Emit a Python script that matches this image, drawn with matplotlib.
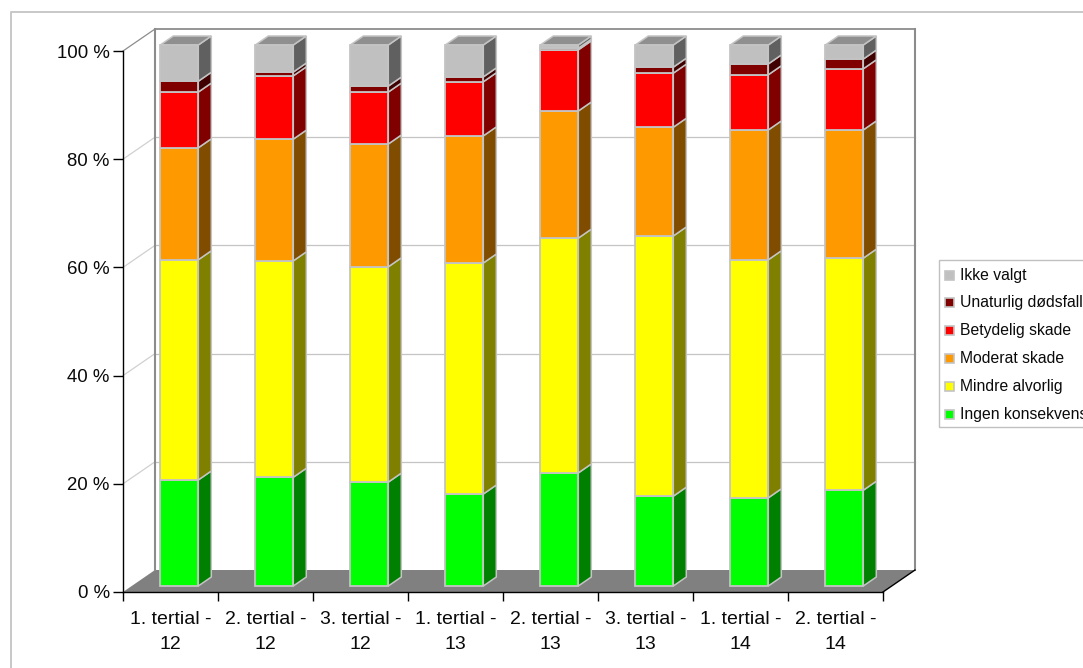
import matplotlib
matplotlib.use("Agg")
import matplotlib.pyplot as plt
from matplotlib.patches import Polygon, Rectangle
from matplotlib.lines import Line2D
from matplotlib.transforms import ScaledTranslation

plt.rcParams['font.family'] = ['Liberation Sans', 'DejaVu Sans']

categories = ["1. tertial -\n12", "2. tertial -\n12", "3. tertial -\n12", "1. tertial -\n13",
              "2. tertial -\n13", "3. tertial -\n13", "1. tertial -\n14", "2. tertial -\n14"]
ingen = [19.6, 20.1, 19.2, 17.0, 20.9, 16.6, 16.3, 17.7]
mindre = [40.7, 40.0, 39.8, 42.7, 43.4, 48.1, 44.0, 42.9]
moderat = [20.7, 22.5, 22.7, 23.5, 23.5, 20.1, 24.0, 23.7]
betydelig = [10.3, 11.7, 9.6, 10.0, 11.3, 10.0, 10.2, 11.3]
unaturlig = [2.0, 0.7, 1.1, 0.9, 0.3, 1.1, 2.0, 1.8]
ikke_valgt = [6.7, 5.0, 7.6, 5.9, 0.6, 4.1, 3.5, 2.6]

series = [
    ("Ingen konsekvens", ingen, "#00ff00", "#008000"),
    ("Mindre alvorlig", mindre, "#ffff00", "#808000"),
    ("Moderat skade", moderat, "#ff9900", "#804d00"),
    ("Betydelig skade", betydelig, "#ff0000", "#800000"),
    ("Unaturlig dødsfall", unaturlig, "#800000", "#400000"),
    ("Ikke valgt", ikke_valgt, "#c0c0c0", "#606060"),
]
y_ticks = [0, 20, 40, 60, 80, 100]

W, H = 1083, 668
DPI = 100
fig = plt.figure(figsize=(W / DPI, H / DPI), dpi=DPI)
EDGE = "#c4c4c4"
TEXT = "#0a0a0a"

# Outer chart frame, drawn in figure pixels
fig.add_artist(Line2D([10.5 / W, 10.5 / W, 1], [0, 1 - 11.5 / H, 1 - 11.5 / H], color="#c8c8c8", lw=1.4))

# Front plane of the pseudo-3D plot
ax = fig.add_axes([123 / W, 1 - 592 / H, 760 / W, 541 / H])
n = len(categories)
ax.set_xlim(0, n)
ax.set_ylim(0, 100)
ax.patch.set_visible(False)
for side in ("top", "right"):
    ax.spines[side].set_visible(False)
for side in ("left", "bottom"):
    ax.spines[side].set_color("black")
    ax.spines[side].set_linewidth(1.0)

WALL_DX, WALL_DY = 32, 22
wall = ax.transData + ScaledTranslation(WALL_DX / DPI, WALL_DY / DPI, fig.dpi_scale_trans)
offset = (WALL_DX, WALL_DY)

# Floor
p0 = ax.transData.transform((0, 0))
p1 = ax.transData.transform((n, 0))
ax.add_patch(Polygon([p0, p1, p1 + offset, p0 + offset], closed=True, transform=None,
                     facecolor="#808080", edgecolor="none", zorder=1, clip_on=False))

# Back wall, gridlines and their diagonals on the left side
for t in y_ticks[1:]:
    is_top = t == 100
    ax.plot([0, n], [t, t], transform=wall, color="#8c8c8c" if is_top else "#c4c4c4",
            lw=1.3 if is_top else 0.9, zorder=1, clip_on=False)
    a = ax.transData.transform((0, t))
    ax.add_line(Line2D([a[0], a[0] + WALL_DX], [a[1], a[1] + WALL_DY], transform=None,
                       color="#8c8c8c" if is_top else "#d0d0d0", lw=0.9, zorder=1, clip_on=False))
ax.plot([0, 0], [0, 100], transform=wall, color="#8c8c8c", lw=1.5, zorder=1, clip_on=False)
ax.plot([n, n], [0, 100], transform=wall, color="#8c8c8c", lw=1.5, zorder=1, clip_on=False)
ax.add_line(Line2D([p1[0], p1[0] + WALL_DX], [p1[1], p1[1] + WALL_DY], transform=None,
                   color="black", lw=1.0, zorder=2, clip_on=False))

# Stacked bars: front face, side face and the cap on the last segment
BAR_W = 0.4
FX, FY = 8.8, 6  # bar front offset from the axis plane, pixels
DX, DY = 13, 9   # bar depth, pixels
for i in range(n):
    left = i + 0.5 - BAR_W / 2
    right = left + BAR_W
    base = 0.0
    for label, values, face, side in series:
        top = base + values[i]
        ll = ax.transData.transform((left, base)) + (FX, FY)
        lr = ax.transData.transform((right, base)) + (FX, FY)
        ur = ax.transData.transform((right, top)) + (FX, FY)
        ul = ax.transData.transform((left, top)) + (FX, FY)
        ax.add_patch(Polygon([lr, lr + (DX, DY), ur + (DX, DY), ur], closed=True, transform=None,
                             facecolor=side, edgecolor=EDGE, lw=1.1, zorder=3, clip_on=False))
        ax.add_patch(Polygon([ll, lr, ur, ul], closed=True, transform=None,
                             facecolor=face, edgecolor=EDGE, lw=1.3, zorder=4, clip_on=False))
        base = top
    ax.add_patch(Polygon([ul, ur, ur + (DX, DY), ul + (DX, DY)], closed=True, transform=None,
                         facecolor="#8f8f8f", edgecolor=EDGE, lw=1.1, zorder=3, clip_on=False))

# Axes ticks and labels
ax.set_yticks(y_ticks)
ax.set_yticklabels([f"{t} %" for t in y_ticks], fontsize=13.4, color=TEXT)
ax.tick_params(axis="y", length=7, width=1, pad=2.5)
ax.set_xticks(range(n + 1))
ax.set_xticklabels([""] * (n + 1))
ax.tick_params(axis="x", length=6.5, width=1)
for i, cat in enumerate(categories):
    ax.annotate(cat, (i + 0.5, 0), xytext=(0, -14), textcoords="offset points",
                ha="center", va="top", fontsize=14, color=TEXT, linespacing=1.55,
                annotation_clip=False)

# Legend, built by hand so its box runs past the figure edge
box_l, box_t, box_b = 939, 260, 427
fig.add_artist(Rectangle((box_l / W, 1 - box_b / H), 200 / W, (box_b - box_t) / H,
                         transform=fig.transFigure, facecolor="white", edgecolor="#c0c0c0", lw=1))
for k, (label, values, face, side) in enumerate(reversed(series)):
    yc = 275 + k * 27.9
    fig.add_artist(Rectangle((944.5 / W, 1 - (yc + 4.5) / H), 9 / W, 9 / H, transform=fig.transFigure,
                             facecolor=face, edgecolor=EDGE, lw=1.2))
    fig.text(960.5 / W, 1 - yc / H, label, fontsize=11.3, va="center", ha="left", color=TEXT)

fig.savefig("out.png", dpi=DPI)
